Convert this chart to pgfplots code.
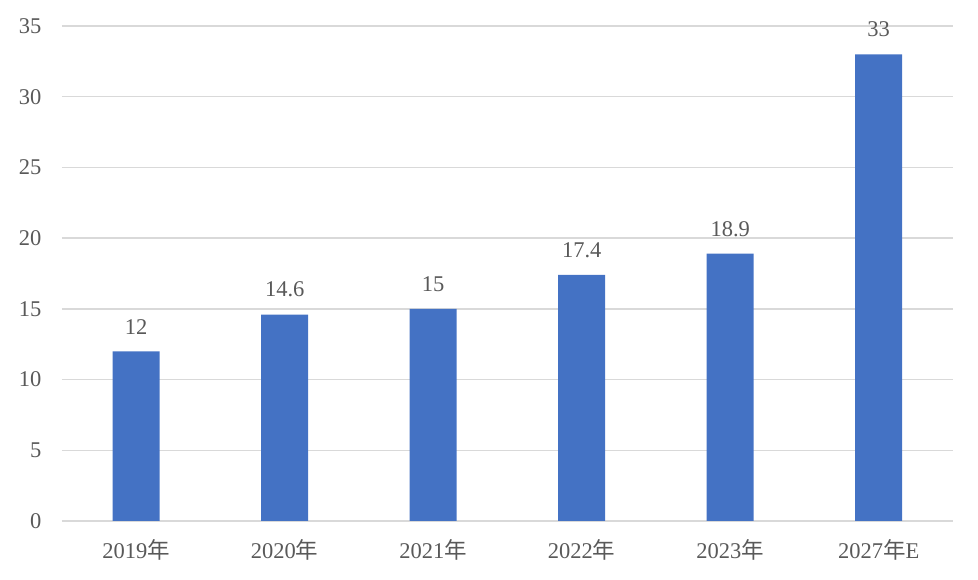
\documentclass[border=0pt]{standalone}
\usepackage{pgfplots}
\pgfplotsset{compat=1.18}
\usepackage{fontspec}
\setmainfont{Liberation Serif}
\newfontfamily\cjk{Noto Sans CJK SC}
\definecolor{barblue}{HTML}{4472C4}
\definecolor{gridgray}{HTML}{D9D9D9}
\definecolor{txt}{HTML}{595959}
\begin{document}
\begin{tikzpicture}
\begin{axis}[
  at={(0,0)}, anchor=south west,
  scale only axis,
  width=891pt, height=495pt,
  xmin=-0.5, xmax=5.5,
  ymin=0, ymax=35,
  ytick={0,5,...,35},
  xtick=data,
  xticklabels={2019{\cjk 年},2020{\cjk 年},2021{\cjk 年},2022{\cjk 年},2023{\cjk 年},2027{\cjk 年}E},
  axis line style={draw=none},
  major tick length=0pt,
  ymajorgrids,
  grid style={gridgray, line width=1.3pt},
  /pgf/number format/assume math mode=true,
  ticklabel style={font=\fontsize{22.5}{26}\selectfont, text=txt},
  yticklabel style={xshift=-17pt},
  xticklabel style={yshift=-15pt},
  ybar,
  bar width=47pt,
  nodes near coords,
  every node near coord/.append style={font=\fontsize{22.5}{26}\selectfont, text=txt, inner sep=0pt, anchor=south, yshift=17pt},
  point meta=explicit symbolic,
]
\addplot[fill=barblue, draw=none] table[meta=label] {
x y label
0 12 12
1 14.6 14.6
2 15 15
3 17.4 17.4
4 18.9 18.9
5 33 33
};
\end{axis}
\pgfresetboundingbox
\useasboundingbox (-62pt,-59pt) rectangle (916pt,521pt);
\end{tikzpicture}
\end{document}
